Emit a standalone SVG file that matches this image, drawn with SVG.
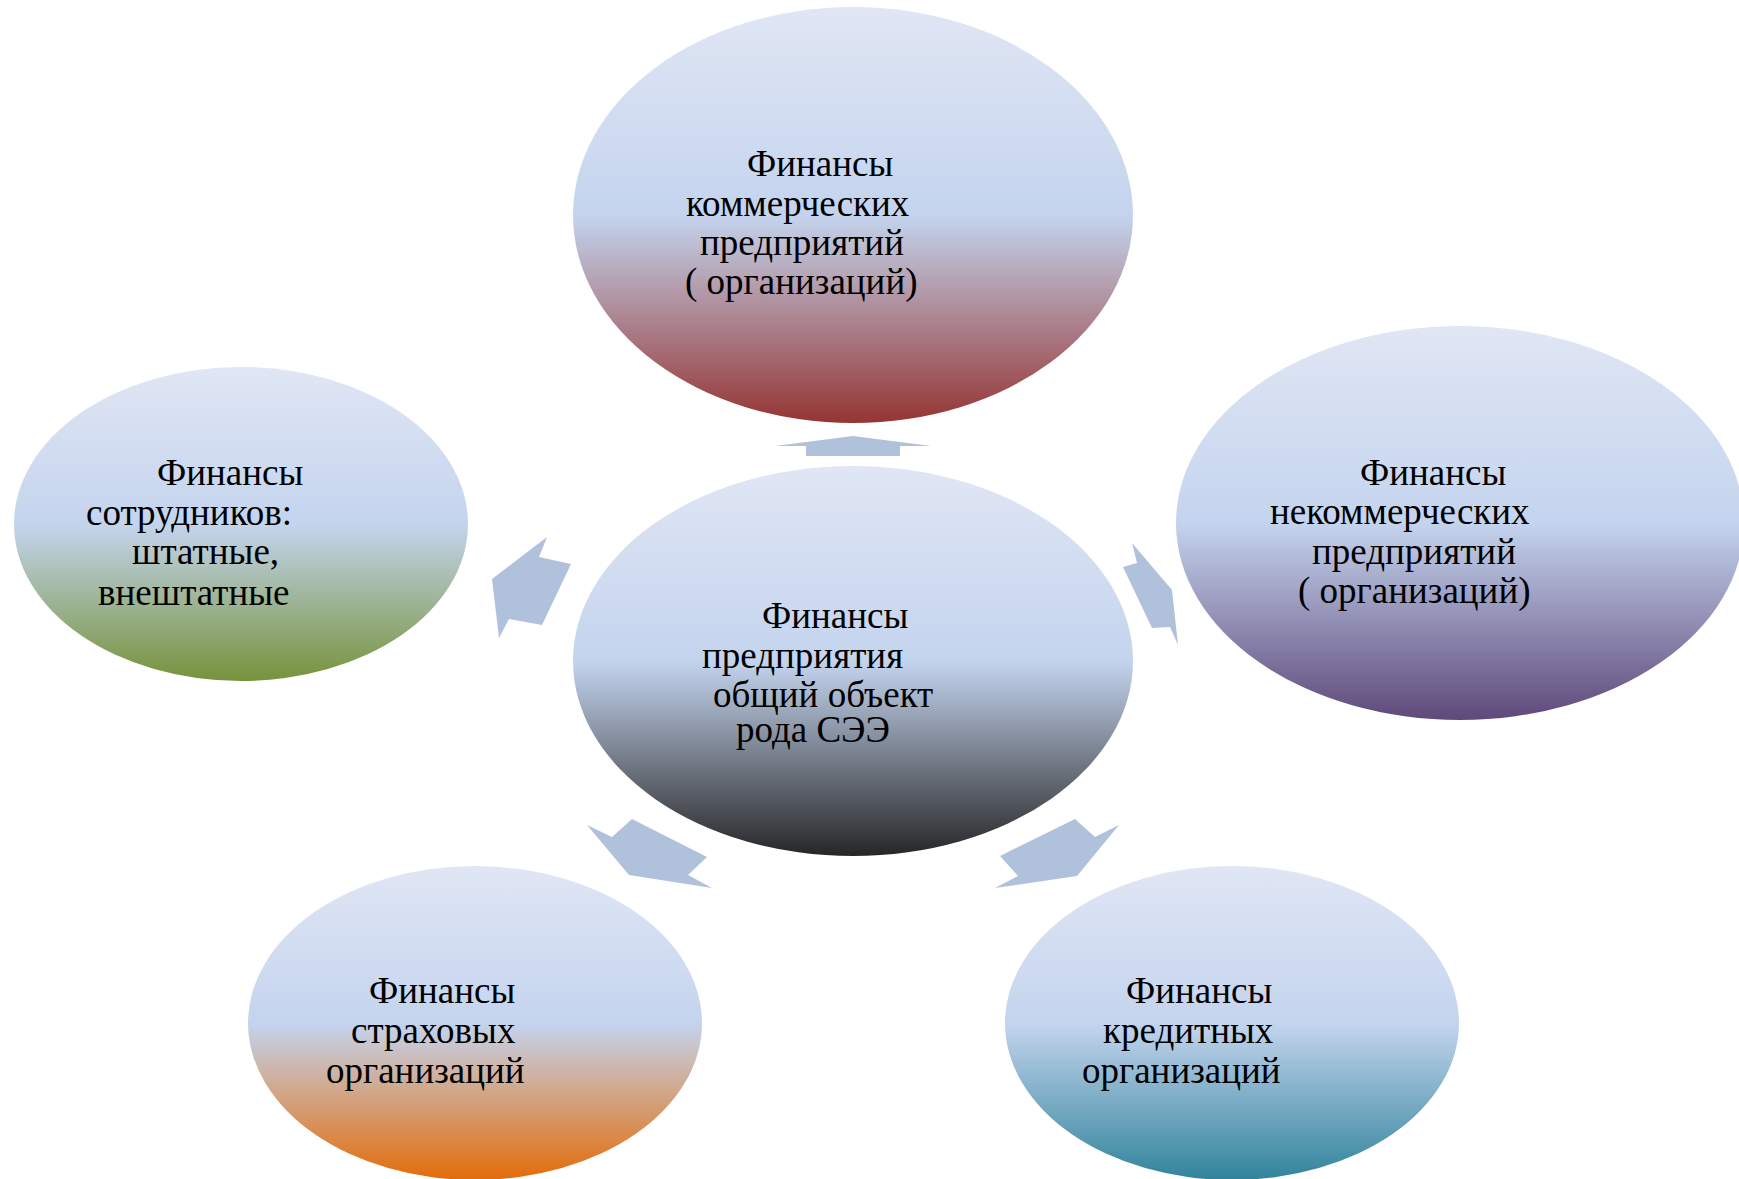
<svg xmlns="http://www.w3.org/2000/svg" width="1739" height="1179" viewBox="0 0 1739 1179">
<defs>
<linearGradient id="gRed" x1="0" y1="0" x2="0" y2="1"><stop offset="0" stop-color="#e0e6f4"/><stop offset="0.5" stop-color="#c4d4ee"/><stop offset="1" stop-color="#953533"/></linearGradient>
<linearGradient id="gDark" x1="0" y1="0" x2="0" y2="1"><stop offset="0" stop-color="#e0e6f4"/><stop offset="0.5" stop-color="#c4d4ee"/><stop offset="1" stop-color="#262626"/></linearGradient>
<linearGradient id="gGreen" x1="0" y1="0" x2="0" y2="1"><stop offset="0" stop-color="#e0e6f4"/><stop offset="0.5" stop-color="#c4d4ee"/><stop offset="1" stop-color="#76933c"/></linearGradient>
<linearGradient id="gPurple" x1="0" y1="0" x2="0" y2="1"><stop offset="0" stop-color="#e0e6f4"/><stop offset="0.5" stop-color="#c4d4ee"/><stop offset="1" stop-color="#5f497a"/></linearGradient>
<linearGradient id="gOrange" x1="0" y1="0" x2="0" y2="1"><stop offset="0" stop-color="#e0e6f4"/><stop offset="0.5" stop-color="#c4d4ee"/><stop offset="1" stop-color="#e36c0a"/></linearGradient>
<linearGradient id="gTeal" x1="0" y1="0" x2="0" y2="1"><stop offset="0" stop-color="#e0e6f4"/><stop offset="0.5" stop-color="#c4d4ee"/><stop offset="1" stop-color="#31849b"/></linearGradient>
</defs>
<style>
text{font-family:"Liberation Serif","Times New Roman",serif;font-size:37px;fill:#000}
.arrow{fill:#b0c1dc;stroke:none}
</style>
<rect width="1739" height="1179" fill="#ffffff"/>
<g id="connectors">
<polygon class="arrow" points="853,436 931,446 900,446 900,456 806,456 806,446 775,446"/>
<polygon class="arrow" points="492,579 547,537 539,557 571,564 542,625 509,619 499,638"/>
<polygon class="arrow" points="1132,543 1172,590 1178,645 1170,627 1152,628 1123,567 1137,563"/>
<polygon class="arrow" points="587,825 612,837 632,819 707,857 688,875 712,888 629,875"/>
<polygon class="arrow" points="1119,825 1095,837 1075,819 1000,856 1018,876 995,888 1077,876"/>
</g>
<g id="node-top">
<ellipse cx="853" cy="215" rx="280" ry="208" fill="url(#gRed)"/>
<text x="747" y="176">Финансы</text>
<text x="686" y="216">коммерческих</text>
<text x="700" y="255">предприятий</text>
<text x="685" y="294">( организаций)</text>
</g>
<g id="node-center">
<ellipse cx="853" cy="661" rx="280" ry="195" fill="url(#gDark)"/>
<text x="762" y="628">Финансы</text>
<text x="702" y="668">предприятия</text>
<text x="713" y="707">общий объект</text>
<text x="736" y="742">рода СЭЭ</text>
</g>
<g id="node-left">
<ellipse cx="241" cy="524" rx="227" ry="157" fill="url(#gGreen)"/>
<text x="157" y="485">Финансы</text>
<text x="86" y="525">сотрудников:</text>
<text x="132" y="564">штатные,</text>
<text x="98" y="605">внештатные</text>
</g>
<g id="node-right">
<ellipse cx="1460" cy="523" rx="284" ry="197" fill="url(#gPurple)"/>
<text x="1360" y="485">Финансы</text>
<text x="1270" y="524">некоммерческих</text>
<text x="1312" y="564">предприятий</text>
<text x="1298" y="603">( организаций)</text>
</g>
<g id="node-bottom-left">
<ellipse cx="475" cy="1023" rx="227" ry="157" fill="url(#gOrange)"/>
<text x="369" y="1003">Финансы</text>
<text x="351" y="1043">страховых</text>
<text x="326" y="1083">организаций</text>
</g>
<g id="node-bottom-right">
<ellipse cx="1232" cy="1023" rx="227" ry="157" fill="url(#gTeal)"/>
<text x="1126" y="1003">Финансы</text>
<text x="1103" y="1043">кредитных</text>
<text x="1082" y="1083">организаций</text>
</g>
</svg>
